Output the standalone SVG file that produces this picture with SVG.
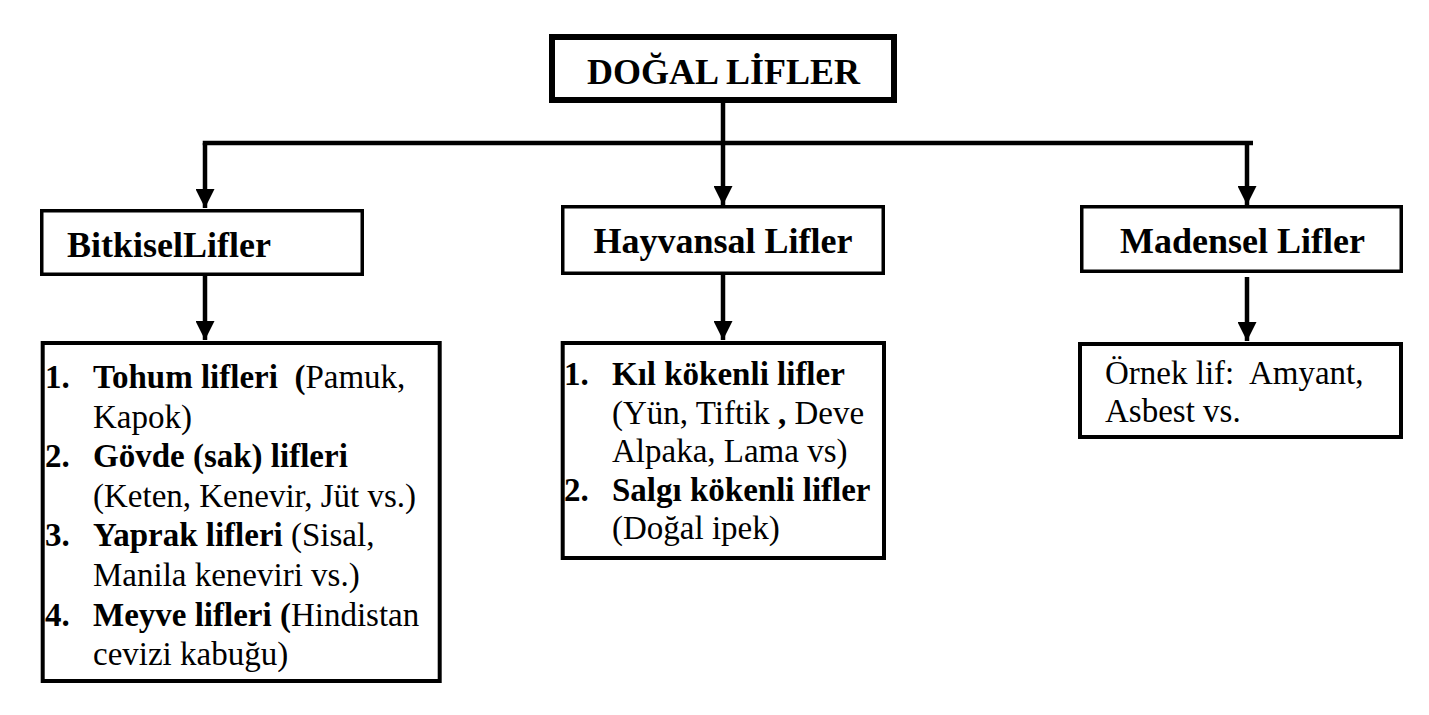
<svg xmlns="http://www.w3.org/2000/svg" width="1429" height="715" viewBox="0 0 1429 715">
  <style>
    .box { fill: #ffffff; stroke: #000000; stroke-width: 3.5; }
    .root { fill: #ffffff; stroke: #000000; stroke-width: 6; }
    .list { fill: #ffffff; stroke: #000000; stroke-width: 4; }
    .conn { fill: none; stroke: #000000; stroke-width: 4.5; }
    text { font-family: 'Liberation Serif', 'Times New Roman', Times, 'DejaVu Serif', serif; fill: #000000; white-space: pre; }
    .h1 { font-size: 36px; font-weight: bold; }
    .h2 { font-size: 36px; font-weight: bold; }
    .li { font-size: 33px; }
    .b { font-weight: bold; }
  </style>
  <defs>
    <marker id="arrow" viewBox="0 0 10 10" refX="10" refY="5" markerUnits="userSpaceOnUse" markerWidth="19" markerHeight="19" orient="auto">
      <path d="M0,0 L10,5 L0,10 z" fill="#000000"/>
    </marker>
  </defs>

  <g id="connectors">
    <path class="conn" d="M723,103 V205" marker-end="url(#arrow)"/>
    <path class="conn" d="M202.75,143 H1253"/>
    <path class="conn" d="M205,143 V208" marker-end="url(#arrow)"/>
    <path class="conn" d="M1247,143 V205" marker-end="url(#arrow)"/>
    <path class="conn" d="M205,276 V340" marker-end="url(#arrow)"/>
    <path class="conn" d="M723,275 V340" marker-end="url(#arrow)"/>
    <path class="conn" d="M1247,277 V341" marker-end="url(#arrow)"/>
  </g>

  <g id="node-dogal-lifler">
    <rect class="root" x="552" y="37" width="342" height="63"/>
    <text class="h1" x="723.5" y="84" text-anchor="middle" font-family="Liberation Serif, serif">DOĞAL LİFLER</text>
  </g>

  <g id="node-bitkisel">
    <rect class="box" x="41.75" y="210.75" width="320.5" height="63.5"/>
    <text class="h2" x="67" y="257">BitkiselLifler</text>
  </g>

  <g id="node-hayvansal">
    <rect class="box" x="562.75" y="206.75" width="320.5" height="66.5"/>
    <text class="h2" x="723" y="253" text-anchor="middle">Hayvansal Lifler</text>
  </g>

  <g id="node-madensel">
    <rect class="box" x="1081.75" y="206.75" width="319.5" height="64.5"/>
    <text class="h2" x="1242.5" y="253" text-anchor="middle">Madensel Lifler</text>
  </g>

  <g id="node-bitkisel-list">
    <rect class="list" x="42.7" y="343" width="397" height="338"/>
    <text class="li b" x="45" y="388">1.</text>
    <text class="li" x="93" y="388"><tspan class="b">Tohum lifleri  (</tspan>Pamuk,</text>
    <text class="li" x="93" y="427.6">Kapok)</text>
    <text class="li b" x="45" y="467.2">2.</text>
    <text class="li b" x="93" y="467.2">Gövde (sak) lifleri</text>
    <text class="li" x="93" y="506.8">(Keten, Kenevir, Jüt vs.)</text>
    <text class="li b" x="45" y="546.4">3.</text>
    <text class="li" x="93" y="546.4"><tspan class="b">Yaprak lifleri</tspan> (Sisal,</text>
    <text class="li" x="93" y="586">Manila keneviri vs.)</text>
    <text class="li b" x="45" y="625.6">4.</text>
    <text class="li" x="93" y="625.6"><tspan class="b">Meyve lifleri (</tspan>Hindistan</text>
    <text class="li" x="93" y="665.2">cevizi kabuğu)</text>
  </g>

  <g id="node-hayvansal-list">
    <rect class="list" x="562.7" y="343" width="321.3" height="215"/>
    <text class="li b" x="564" y="385">1.</text>
    <text class="li b" x="612" y="385">Kıl kökenli lifler</text>
    <text class="li" x="612" y="423.5">(Yün, Tiftik <tspan class="b">,</tspan> Deve</text>
    <text class="li" x="612" y="462">Alpaka, Lama vs)</text>
    <text class="li b" x="564" y="501">2.</text>
    <text class="li b" x="612" y="501">Salgı kökenli lifler</text>
    <text class="li" x="612" y="538.5">(Doğal ipek)</text>
  </g>

  <g id="node-madensel-list">
    <rect class="list" x="1080" y="344" width="321" height="93"/>
    <text class="li" x="1105" y="384">Örnek lif:  Amyant,</text>
    <text class="li" x="1105" y="422">Asbest vs.</text>
  </g>
</svg>
